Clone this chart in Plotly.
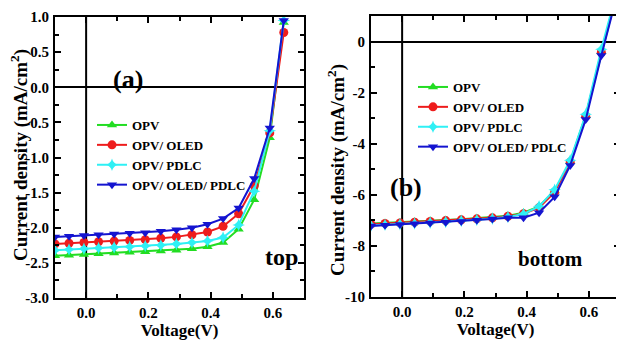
import plotly.graph_objects as go

# ---------------- data ----------------
series_names = ["OPV", "OPV/ OLED", "OPV/ PDLC", "OPV/ OLED/ PDLC"]

# panel (a) top
volt_a = [-0.1, -0.055, -0.007, 0.04, 0.09, 0.14, 0.19, 0.24, 0.29, 0.34, 0.39, 0.44, 0.49, 0.54, 0.59, 0.635]
opv_a = [-2.40, -2.39, -2.38, -2.37, -2.36, -2.35, -2.34, -2.33, -2.32, -2.30, -2.27, -2.21, -2.02, -1.60, -0.72, 0.92]
oled_a = [-2.23, -2.22, -2.21, -2.20, -2.19, -2.18, -2.17, -2.15, -2.13, -2.10, -2.06, -1.98, -1.80, -1.40, -0.65, 0.78]
pdlc_a = [-2.32, -2.31, -2.30, -2.29, -2.28, -2.27, -2.26, -2.25, -2.23, -2.21, -2.19, -2.14, -1.96, -1.48, -0.62, 0.95]
oledpdlc_a = [-2.13, -2.12, -2.11, -2.10, -2.09, -2.08, -2.07, -2.05, -2.03, -2.00, -1.95, -1.87, -1.72, -1.30, -0.58, 0.95]

# panel (b) bottom
volt_b = [-0.1, -0.055, -0.007, 0.04, 0.09, 0.14, 0.19, 0.24, 0.29, 0.34, 0.39, 0.44, 0.49, 0.54, 0.59, 0.64, 0.69]
opv_b = [-7.12, -7.10, -7.08, -7.05, -7.02, -6.99, -6.96, -6.92, -6.88, -6.82, -6.70, -6.45, -5.85, -4.70, -2.90, -0.40, 1.9]
oled_b = [-7.15, -7.12, -7.10, -7.07, -7.04, -7.01, -6.98, -6.94, -6.90, -6.84, -6.74, -6.50, -5.90, -4.72, -2.92, -0.42, 1.9]
pdlc_b = [-7.20, -7.17, -7.15, -7.12, -7.09, -7.06, -7.02, -6.98, -6.93, -6.87, -6.75, -6.45, -5.80, -4.65, -2.85, -0.30, 2.0]
oledpdlc_b = [-7.22, -7.19, -7.16, -7.13, -7.10, -7.07, -7.04, -7.00, -6.95, -6.90, -6.90, -6.70, -6.08, -4.85, -3.05, -0.55, 1.8]

# tick labels
xtick_vals = [0.0, 0.2, 0.4, 0.6]
xtick_text = ["0.0", "0.2", "0.4", "0.6"]
ytick_vals_a = [1.0, 0.5, 0.0, -0.5, -1.0, -1.5, -2.0, -2.5, -3.0]
ytick_text_a = ["1.0", "0.5", "0.0", "-0.5", "-1.0", "-1.5", "-2.0", "-2.5", "-3.0"]
ytick_vals_b = [0, -2, -4, -6, -8, -10]
ytick_text_b = ["0", "-2", "-4", "-6", "-8", "-10"]

y_title = "Current density (mA/cm<sup>2</sup>)"
x_title = "Voltage(V)"

# ---------------- style ----------------
colors = ["#22dd22", "#ee1c1c", "#2ff0f5", "#1414d0"]
symbols = ["triangle-up", "circle", "star-diamond", "triangle-down"]
FONT = "Liberation Serif"

# page has an 8px body margin: figure is drawn 8px in from the window corner
OFF = 8
W, H = 624 - OFF, 351 - OFF


def px(x):
    return (x - OFF) / W


def py(y):
    return 1 - (y - OFF) / H


fig = go.Figure()

data_a = [opv_a, oled_a, pdlc_a, oledpdlc_a]
data_b = [opv_b, oled_b, pdlc_b, oledpdlc_b]

for i, name in enumerate(series_names):
    fig.add_trace(go.Scatter(
        x=volt_a, y=data_a[i], name=name, mode="lines+markers",
        line=dict(color=colors[i], width=2),
        marker=dict(symbol=symbols[i], size=9, color=colors[i]),
        xaxis="x", yaxis="y", legend="legend"))
for i, name in enumerate(series_names):
    fig.add_trace(go.Scatter(
        x=volt_b, y=data_b[i], name=name, mode="lines+markers",
        line=dict(color=colors[i], width=2),
        marker=dict(symbol=symbols[i], size=9, color=colors[i]),
        xaxis="x2", yaxis="y2", legend="legend2"))

tickfont = dict(family=FONT, size=15, color="black", weight="bold")
titlefont = dict(family=FONT, size=17, color="black", weight="bold")
ytitlefont = dict(family=FONT, size=19, color="black", weight="bold")

common_x = dict(
    range=[-0.1, 0.7], tickmode="array", tickvals=xtick_vals, ticktext=xtick_text,
    ticks="inside", ticklen=6, tickwidth=1.5, tickcolor="black",
    minor=dict(dtick=0.1, tick0=0, ticks="inside", ticklen=4, tickwidth=1.5, tickcolor="black"),
    showline=True, linecolor="black", linewidth=2, mirror="allticks",
    showgrid=False, zeroline=False, tickfont=tickfont, automargin=False,
    title=dict(text=x_title, font=titlefont, standoff=2),
)
common_y = dict(
    ticks="inside", ticklen=6, tickwidth=1.5, tickcolor="black",
    showline=True, linecolor="black", linewidth=2, mirror="allticks",
    showgrid=False, zeroline=True, zerolinecolor="black", zerolinewidth=2,
    tickfont=tickfont, automargin=False, ticklabelstandoff=1,
)

fig.update_layout(
    width=W, height=H,
    margin=dict(l=0, r=0, t=0, b=0, autoexpand=False),
    paper_bgcolor="white", plot_bgcolor="white",
    showlegend=True,
    xaxis=dict(domain=[px(55), px(304)], anchor="y", **common_x),
    xaxis2=dict(domain=[px(371), px(620)], anchor="y2", **common_x),
    yaxis=dict(domain=[py(298), py(17)], anchor="x", range=[-3.0, 1.0],
               tickmode="array", tickvals=ytick_vals_a, ticktext=ytick_text_a,
               minor=dict(dtick=0.25, tick0=0, ticks="inside", ticklen=4, tickwidth=1.5, tickcolor="black"),
               **common_y),
    yaxis2=dict(domain=[py(297), py(16)], anchor="x2", range=[-10, 1],
                tickmode="array", tickvals=ytick_vals_b, ticktext=ytick_text_b,
                minor=dict(dtick=1, tick0=0, ticks="inside", ticklen=4, tickwidth=1.5, tickcolor="black"),
                **common_y),
    legend=dict(x=px(92), y=py(110), xanchor="left", yanchor="top",
                bgcolor="rgba(0,0,0,0)", font=dict(family=FONT, size=13, color="black", weight="bold"),
                itemwidth=30, tracegroupgap=0),
    legend2=dict(x=px(413), y=py(72), xanchor="left", yanchor="top",
                 bgcolor="rgba(0,0,0,0)", font=dict(family=FONT, size=13, color="black", weight="bold"),
                 itemwidth=30, tracegroupgap=0),
    annotations=[
        dict(text=y_title, x=px(19), y=py(155), xref="paper", yref="paper", showarrow=False,
             textangle=-90, xanchor="center", yanchor="middle", font=ytitlefont),
        dict(text=y_title, x=px(337), y=py(170), xref="paper", yref="paper", showarrow=False,
             textangle=-90, xanchor="center", yanchor="middle", font=ytitlefont),
        dict(text="(a)", x=px(111), y=py(63), xref="paper", yref="paper", showarrow=False,
             font=dict(family=FONT, size=26, color="black", weight="bold")),
        dict(text="top", x=px(281), y=py(272), xref="paper", yref="paper", showarrow=False,
             font=dict(family=FONT, size=24, color="black", weight="bold")),
        dict(text="(b)", x=px(424), y=py(188), xref="paper", yref="paper", showarrow=False,
             font=dict(family=FONT, size=26, color="black", weight="bold")),
        dict(text="bottom", x=px(585), y=py(273), xref="paper", yref="paper", showarrow=False,
             font=dict(family=FONT, size=21, color="black", weight="bold")),
    ],
)

# vertical line at V = 0 in both panels
fig.add_shape(type="line", xref="x", yref="y domain", x0=0, x1=0, y0=0, y1=1,
              layer="below", line=dict(color="black", width=2))
fig.add_shape(type="line", xref="x2", yref="y2 domain", x0=0, x1=0, y0=0, y1=1,
              layer="below", line=dict(color="black", width=2))

fig.write_html("out.html")
